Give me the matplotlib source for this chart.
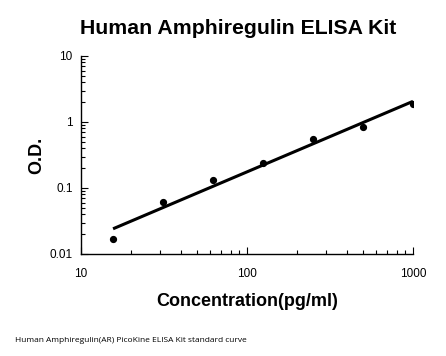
import numpy as np
import matplotlib
matplotlib.use("Agg")
import matplotlib.pyplot as plt
from matplotlib.ticker import LogLocator, NullFormatter

conc = [15.6, 31.25, 62.5, 125, 250, 500, 1000]
od = [0.0169, 0.0607, 0.132, 0.237, 0.552, 0.83, 1.85]
xticks = [10, 100, 1000]
xticklabels = ["10", "100", "1000"]
yticks = [0.01, 0.1, 1, 10]
yticklabels = ["0.01", "0.1", "1", "10"]

plt.rcParams['font.family'] = ['Liberation Sans', 'DejaVu Sans']

fig = plt.figure(figsize=(4.46, 3.56), dpi=100)
ax = fig.add_axes([81/446, 1-254/356, (413-81)/446, (254-56)/356])

# power fit
lx, ly = np.log10(conc), np.log10(od)
b, a = np.polyfit(lx, ly, 1)
xf = np.array([conc[0], conc[-1]])
yf = 10**(a + b*np.log10(xf))
ax.plot(xf, yf, color='black', lw=2.2, solid_capstyle='butt')
ax.plot(conc, od, 'o', color='black', ms=4.2)

ax.set_xscale('log')
ax.set_yscale('log')
ax.set_xlim(10, 1000)
ax.set_ylim(0.01, 10)
ax.set_xticks(xticks)
ax.set_xticklabels(xticklabels)
ax.set_yticks(yticks)
ax.set_yticklabels(yticklabels)
ax.xaxis.set_minor_locator(LogLocator(base=10, subs=np.arange(2, 10)))
ax.yaxis.set_minor_locator(LogLocator(base=10, subs=np.arange(2, 10)))
ax.xaxis.set_minor_formatter(NullFormatter())
ax.yaxis.set_minor_formatter(NullFormatter())
for s in ['top', 'right']:
    ax.spines[s].set_visible(False)
for s in ['left', 'bottom']:
    ax.spines[s].set_linewidth(1.0)
ax.tick_params(axis='both', which='both', direction='in', color='black', width=0.8)
ax.tick_params(axis='both', which='major', length=5, labelsize=8.5)
ax.tick_params(axis='both', which='minor', length=3)
ax.tick_params(axis='x', which='major', pad=10)
ax.tick_params(axis='y', which='major', pad=6)

fig.text(238/446, 1-28/356, "Human Amphiregulin ELISA Kit", ha='center', va='center',
         fontsize=15.3, fontweight='bold')
fig.text(247/446, 1-302/356, "Concentration(pg/ml)", ha='center', va='center',
         fontsize=13, fontweight='bold')
fig.text(37/446, 1-155/356, "O.D.", ha='center', va='center', rotation=90,
         fontsize=13, fontweight='bold')
fig.text(15/446, 1-340/356, "Human Amphiregulin(AR) PicoKine ELISA Kit standard curve",
         ha='left', va='center', fontsize=6, family=['Open Sans', 'DejaVu Sans'])

fig.savefig("out.png", dpi=100)
